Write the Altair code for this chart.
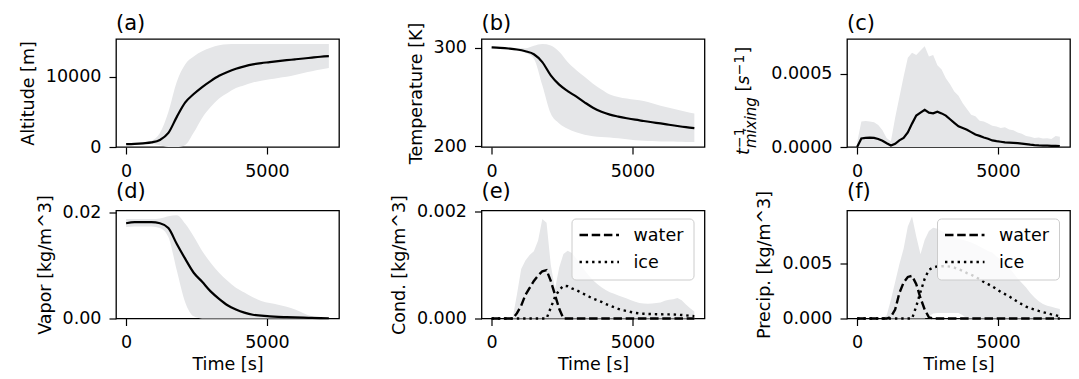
import altair as alt
import pandas as pd

FONT = "DejaVu Sans"
BAND = "#e5e6e8"
W, H = 223, 108
FS = 17.5
FS_TITLE = 21

# ---------------- data ----------------
T300 = [0, 300, 600, 900, 1200, 1500, 1800, 2100, 2400, 2700, 3000, 3300, 3600,
        3900, 4200, 4500, 4800, 5100, 5400, 5700, 6000, 6300, 6600, 6900, 7200]
T150 = [0, 150, 300, 450, 600, 750, 900, 1050, 1200, 1350, 1500, 1650, 1800, 1950,
        2100, 2250, 2400, 2550, 2700, 2850, 3000, 3150, 3300, 3450, 3600, 3750, 3900,
        4050, 4200, 4350, 4500, 4650, 4800, 4950, 5100, 5250, 5400, 5550, 5700, 5850,
        6000, 6150, 6300, 6450, 6600, 6750, 6900, 7050, 7200]

# (a) altitude [m]
alt_mean = [400, 450, 530, 650, 1000, 2000, 4300, 6350, 7550, 8550, 9400, 10150, 10700,
            11150, 11500, 11780, 11970, 12100, 12250, 12380, 12500, 12620, 12750, 12870, 12950]
alt_hi = [500, 550, 650, 900, 2000, 5000, 9300, 11800, 12900, 13650, 14150, 14500, 14640,
          14670, 14680, 14680, 14680, 14680, 14690, 14690, 14690, 14690, 14700, 14700, 14700]
alt_lo = [300, 330, 380, 420, 250, 0, 0, 300, 2050, 4150, 5700, 6900, 7700,
          8400, 8800, 9200, 9450, 9650, 9850, 10000, 10250, 10550, 10800, 11050, 11250]

# (b) temperature [K]
tem_mean = [300.5, 300.0, 299.3, 298.3, 296.5, 293.5, 285.5, 272.0, 262.5, 256.0, 250.5, 244.5, 239.0,
            235.0, 232.0, 230.0, 228.3, 226.8, 225.5, 224.2, 223.0, 221.7, 220.4, 219.2, 218.2]
tem_hi = [301.0, 300.5, 300.0, 299.5, 299.5, 302.0, 303.8, 302.5, 296.0, 285.5, 277.5, 270.5, 263.5,
          257.5, 252.5, 250.0, 248.3, 247.0, 245.8, 243.5, 241.0, 239.0, 237.0, 235.0, 233.0]
tem_lo = [300.0, 299.5, 298.5, 297.0, 295.0, 289.0, 262.0, 233.0, 223.0, 217.5, 214.0, 211.5, 210.0,
          209.3, 208.7, 207.8, 206.8, 206.0, 205.4, 205.0, 204.7, 204.5, 204.3, 204.1, 204.0]

# (c) inverse mixing time [1/s]
mix_mean = [0, 5.8e-5, 6.3e-5, 6.4e-5, 6.2e-5, 5.5e-5, 4.3e-5, 2.6e-5, 1.0e-5, 2.2e-5, 4.5e-5,
            6.2e-5, 1.0e-4, 1.6e-4, 2.15e-4, 2.35e-4, 2.55e-4, 2.35e-4, 2.3e-4, 2.42e-4, 2.3e-4,
            2.15e-4, 1.9e-4, 1.65e-4, 1.42e-4, 1.3e-4, 1.18e-4, 1.02e-4, 8.6e-5, 7.6e-5, 6.5e-5,
            5.6e-5, 4.5e-5, 4.0e-5, 3.6e-5, 3.2e-5, 3.0e-5, 2.8e-5, 2.6e-5, 2.3e-5, 2.0e-5,
            1.6e-5, 1.3e-5, 1.1e-5, 1.0e-5, 0.9e-5, 0.8e-5, 0.8e-5, 0.7e-5]
mix_hi = [3e-5, 1.75e-4, 1.78e-4, 1.75e-4, 1.7e-4, 1.5e-4, 1.15e-4, 6e-5, 4e-5, 2.0e-4, 3.4e-4,
          4.8e-4, 6.1e-4, 6.45e-4, 6.3e-4, 6.6e-4, 6.9e-4, 6.2e-4, 6.3e-4, 5.6e-4, 5.3e-4,
          4.7e-4, 4.3e-4, 3.8e-4, 3.5e-4, 3.0e-4, 2.6e-4, 2.2e-4, 2.1e-4, 1.8e-4, 1.75e-4,
          1.6e-4, 1.45e-4, 1.4e-4, 1.3e-4, 1.35e-4, 1.2e-4, 1.15e-4, 1.0e-4, 9e-5, 7.5e-5,
          7e-5, 6.2e-5, 6.5e-5, 5.8e-5, 6e-5, 5.5e-5, 7.5e-5, 7e-5]
mix_lo = [0] * 49

# (d) vapor [kg/m^3]
vap_mean = [0.0179, 0.0181, 0.0181, 0.0181, 0.0179, 0.0170, 0.0140, 0.0112, 0.0086, 0.0069, 0.0051,
            0.0037, 0.0025, 0.0017, 0.0011, 0.0007, 0.00055, 0.0004, 0.0003, 0.00025, 0.0002,
            0.00015, 0.0001, 0.00007, 0.00005]
vap_hi = [0.0187, 0.0187, 0.0187, 0.0187, 0.0188, 0.0192, 0.0194, 0.0178, 0.0154, 0.0127, 0.0105,
          0.0086, 0.0071, 0.0058, 0.0049, 0.0040, 0.0033, 0.0029, 0.0026, 0.0022, 0.0017,
          0.0010, 0.0004, 0.0, 0.0]
vap_lo = [0.0172, 0.0173, 0.0173, 0.0173, 0.0170, 0.0153, 0.0090, 0.0030, 0.0004, 0, 0,
          0, 0, 0, 0, 0, 0, 0, 0, 0, 0, 0, 0, 0, 0]

# (e) condensate [kg/m^3]
cond_hi = [0, 0, 0, 0, 0, 2e-5, 4.5e-4, 9.2e-4, 1.08e-3, 1.18e-3, 1.25e-3, 1.45e-3, 1.85e-3,
           1.78e-3, 1.0e-3, 5.5e-4, 9.5e-4, 1.2e-3, 1.26e-3, 1.22e-3, 1.12e-3, 1.0e-3, 9.0e-4,
           8.0e-4, 7.1e-4, 6.4e-4, 5.8e-4, 5.3e-4, 4.9e-4, 4.6e-4, 4.3e-4, 4.0e-4, 3.7e-4,
           3.4e-4, 3.1e-4, 2.9e-4, 2.8e-4, 2.75e-4, 2.8e-4, 2.9e-4, 3.0e-4, 3.3e-4, 3.5e-4,
           3.6e-4, 3.8e-4, 3.4e-4, 2.6e-4, 1.9e-4, 1.3e-4]
cond_lo = [0] * 49
cond_water = [0, 0, 0, 0, 0, 0, 1.0e-4, 2.4e-4, 4.4e-4, 5.7e-4, 7.0e-4, 8.0e-4, 8.8e-4, 9.0e-4,
              7.0e-4, 4.4e-4, 1.8e-4, 0, 0, 0, 0, 0, 0, 0, 0, 0, 0, 0, 0, 0, 0, 0, 0, 0, 0, 0,
              0, 0, 0, 0, 0, 0, 0, 0, 0, 0, 0, 0, 0]
cond_ice = [0, 0, 0, 0, 0, 0, 0, 0, 0, 0, 0, 0, 0, 0, 2.0e-4, 4.0e-4, 5.3e-4, 6.1e-4, 6.0e-4,
            5.6e-4, 5.3e-4, 4.9e-4, 4.5e-4, 4.1e-4, 3.7e-4, 3.4e-4, 3.1e-4, 2.7e-4, 2.4e-4,
            2.1e-4, 1.8e-4, 1.55e-4, 1.4e-4, 1.2e-4, 1.05e-4, 9.5e-5, 8.8e-5, 8.5e-5, 8.2e-5,
            8e-5, 7.8e-5, 7.7e-5, 7.6e-5, 7.5e-5, 7.2e-5, 6.5e-5, 5.8e-5, 5.0e-5, 4.4e-5]

# (f) precipitation [kg/m^3]
prec_hi = [0, 0, 0, 0, 0, 0, 0, 3e-4, 1.7e-3, 3.3e-3, 4.9e-3, 6.3e-3, 8.3e-3, 9.2e-3, 7.4e-3,
           5.8e-3, 7.1e-3, 7.9e-3, 8.2e-3, 8.1e-3, 7.9e-3, 7.7e-3, 7.5e-3, 7.3e-3, 7.2e-3,
           7.1e-3, 7.0e-3, 6.85e-3, 6.7e-3, 6.5e-3, 6.3e-3, 6.1e-3, 5.95e-3, 5.6e-3, 5.3e-3,
           5.0e-3, 4.6e-3, 4.1e-3, 3.6e-3, 3.2e-3, 2.8e-3, 2.3e-3, 1.9e-3, 1.55e-3, 1.3e-3,
           1.15e-3, 1.05e-3, 9.5e-4, 8.5e-4]
prec_lo = [0, 0, 0, 0, 0, 0, 0, 0, 0, 0, 0, 0, 0, 0, 0, 0, 0, 2e-4, 4.5e-4, 5e-4, 5e-4, 5e-4,
           5e-4, 5e-4, 5e-4, 3e-4, 0, 0, 0, 0, 0, 0, 0, 0, 0, 0, 0, 0, 0, 0, 0, 0, 0, 0, 0, 0,
           0, 0, 0]
prec_water = [0, 0, 0, 0, 0, 0, 0, 0, 1.5e-4, 8e-4, 2.3e-3, 3.25e-3, 3.75e-3, 3.85e-3, 3.1e-3,
              1.85e-3, 8e-4, 1e-4, 0, 0, 0, 0, 0, 0, 0, 0, 0, 0, 0, 0, 0, 0, 0, 0, 0, 0, 0,
              0, 0, 0, 0, 0, 0, 0, 0, 0, 0, 0, 0]
prec_ice = [0, 0, 0, 0, 0, 0, 0, 0, 0, 0, 0, 0, 0, 0, 1.1e-3, 2.4e-3, 3.6e-3, 4.4e-3, 4.6e-3,
            4.7e-3, 4.72e-3, 4.72e-3, 4.68e-3, 4.6e-3, 4.45e-3, 4.3e-3, 4.1e-3, 3.95e-3,
            3.75e-3, 3.55e-3, 3.3e-3, 3.1e-3, 2.9e-3, 2.65e-3, 2.4e-3, 2.2e-3, 2.0e-3, 1.75e-3,
            1.5e-3, 1.28e-3, 1.08e-3, 0.93e-3, 0.8e-3, 0.68e-3, 0.57e-3, 0.47e-3, 0.37e-3,
            0.28e-3, 0.2e-3]

KINDS = ["water", "ice"]
DASHES = [[8.5, 3.7], [2.4, 3.9]]
X_TICKS = [0, 5000]
LETTERS = ["(a)", "(b)", "(c)", "(d)", "(e)", "(f)"]

one = pd.DataFrame({"k": [0]})


# ---------------- helpers ----------------
def x_enc(title):
    return alt.X("t:Q", scale=alt.Scale(domain=[-360, 7560], nice=False, zero=False),
                 axis=alt.Axis(values=X_TICKS, format="d", title=title))


def y_axis(ticks, fmt, title):
    return alt.Axis(values=ticks, format=fmt, title=title, labelFlush=False)


def text_piece(text, x, y, size, italic=False, angle=None, baseline="alphabetic"):
    kw = dict(text=text, align="left", baseline=baseline,
              font=FONT, fontSize=size, color="black")
    if angle is not None:
        kw["angle"] = angle
    if italic:
        kw["fontStyle"] = "italic"
    return alt.Chart(one).mark_text(**kw).encode(x=alt.value(x), y=alt.value(y))


def letter(i, row):
    return text_piece(LETTERS[i], 0, -9 if row == 0 else -12.5, FS_TITLE)


def legend_layers():
    box = alt.Chart(one).mark_rect(
        fill="white", fillOpacity=0.8, stroke="#cccccc", strokeWidth=1, cornerRadius=4
    ).encode(x=alt.value(90.5), x2=alt.value(212.5), y=alt.value(8.5), y2=alt.value(69.5))
    out = [box]
    for i, kind in enumerate(KINDS):
        yy = 24.5 + 27 * i
        out.append(alt.Chart(one).mark_rule(color="black", strokeWidth=2.5, strokeDash=DASHES[i])
                   .encode(x=alt.value(98), x2=alt.value(137.5), y=alt.value(yy)))
        out.append(text_piece(kind, 152, yy + 1, FS, baseline="middle"))
    return out


def band_layers(t, mean, lo, hi, ydom, yticks, yfmt, ytitle, xtitle, interp):
    df = pd.DataFrame({"t": t, "mean": mean, "lo": lo, "hi": hi})
    ys = alt.Scale(domain=ydom, nice=False, zero=False)
    area = alt.Chart(df).mark_area(color=BAND, interpolate=interp).encode(
        x=x_enc(xtitle),
        y=alt.Y("lo:Q", scale=ys, axis=y_axis(yticks, yfmt, ytitle)),
        y2="hi:Q",
    )
    line = alt.Chart(df).mark_line(color="black", strokeWidth=2.2, interpolate=interp).encode(
        x="t:Q", y="mean:Q")
    return [area, line]


def kind_layers(t, water, ice, lo, hi, ydom, yticks, yfmt, ytitle):
    df = pd.DataFrame({"t": t, "lo": lo, "hi": hi})
    long = pd.DataFrame({
        "t": list(t) + list(t),
        "kind": [KINDS[0]] * len(t) + [KINDS[1]] * len(t),
        "value": list(water) + list(ice),
    })
    ys = alt.Scale(domain=ydom, nice=False, zero=False)
    area = alt.Chart(df).mark_area(color=BAND).encode(
        x=x_enc("Time [s]"),
        y=alt.Y("lo:Q", scale=ys, axis=y_axis(yticks, yfmt, ytitle)),
        y2="hi:Q",
    )
    line = alt.Chart(long).mark_line(color="black", strokeWidth=2.4).encode(
        x="t:Q",
        y="value:Q",
        strokeDash=alt.StrokeDash("kind:N", scale=alt.Scale(domain=KINDS, range=DASHES),
                                  legend=None),
    )
    return [area, line] + legend_layers()


# (a)
pa = alt.layer(*band_layers(T300, alt_mean, alt_lo, alt_hi, [0, 15400], [0, 10000], "d",
                            "Altitude [m]", None, "monotone"), letter(0, 0)
               ).properties(width=W, height=H)
# (b)
pb = alt.layer(*band_layers(T300, tem_mean, tem_lo, tem_hi, [199, 309], [200, 300], "d",
                            "Temperature [K]", None, "monotone"), letter(1, 0)
               ).properties(width=W, height=H)

# (c) with a composed math-like axis title: t^{-1}_{mixing} [s^{-1}]
XM, XSUP, XSUB = -98.5, -103.5, -91.5
title_pieces = [
    text_piece("t", XM, 116, FS, True, 270),
    text_piece("\u22121", XSUP, 109, 14, False, 270),
    text_piece("mixing", XSUB, 109, 15, True, 270),
    text_piece("[", XM, 52.5, FS, False, 270),
    text_piece("s", XM, 45.7, FS, True, 270),
    text_piece("\u22121", XSUP, 36.2, 14, False, 270),
    text_piece("]", XM, 14.5, FS, False, 270),
]
pc = alt.layer(*band_layers(T150, mix_mean, mix_lo, mix_hi, [0, 0.000739], [0, 0.0005], ".4f",
                            None, None, "linear"), *title_pieces, letter(2, 0)
               ).properties(width=W, height=H)

# (d)
pd_ = alt.layer(*band_layers(T300, vap_mean, vap_lo, vap_hi, [0, 0.0203], [0, 0.02], ".2f",
                             "Vapor [kg/m^3]", "Time [s]", "monotone"), letter(3, 1)
                ).properties(width=W, height=H)
# (e)
pe = alt.layer(*kind_layers(T150, cond_water, cond_ice, cond_lo, cond_hi, [0, 0.00201],
                            [0, 0.002], ".3f", "Cond. [kg/m^3]"), letter(4, 1)
               ).properties(width=W, height=H)
# (f)
pf = alt.layer(*kind_layers(T150, prec_water, prec_ice, prec_lo, prec_hi, [0, 0.00975],
                            [0, 0.005], ".3f", "Precip. [kg/m^3]"), letter(5, 1)
               ).properties(width=W, height=H)

chart = alt.concat(
    pa, pb, pc, pd_, pe, pf, columns=3,
    spacing={"row": 63.5, "column": 142.5}, bounds="flush",
).resolve_scale(strokeDash="independent").properties(
    padding={"left": 18, "top": 12, "right": 5, "bottom": 2}, background="white"
).configure_axis(
    labelFont=FONT, labelFontSize=FS, labelColor="black", labelPadding=8,
    titleFont=FONT, titleFontSize=FS, titleColor="black", titleFontWeight="normal",
    tickColor="black", tickSize=7, tickWidth=1.2, domain=False, grid=False,
).configure_axisX(titlePadding=4).configure_axisY(titlePadding=8).configure_view(
    stroke="black", strokeWidth=1.3
)

chart.save("out.html", embed_options={"renderer": "svg", "actions": False})
